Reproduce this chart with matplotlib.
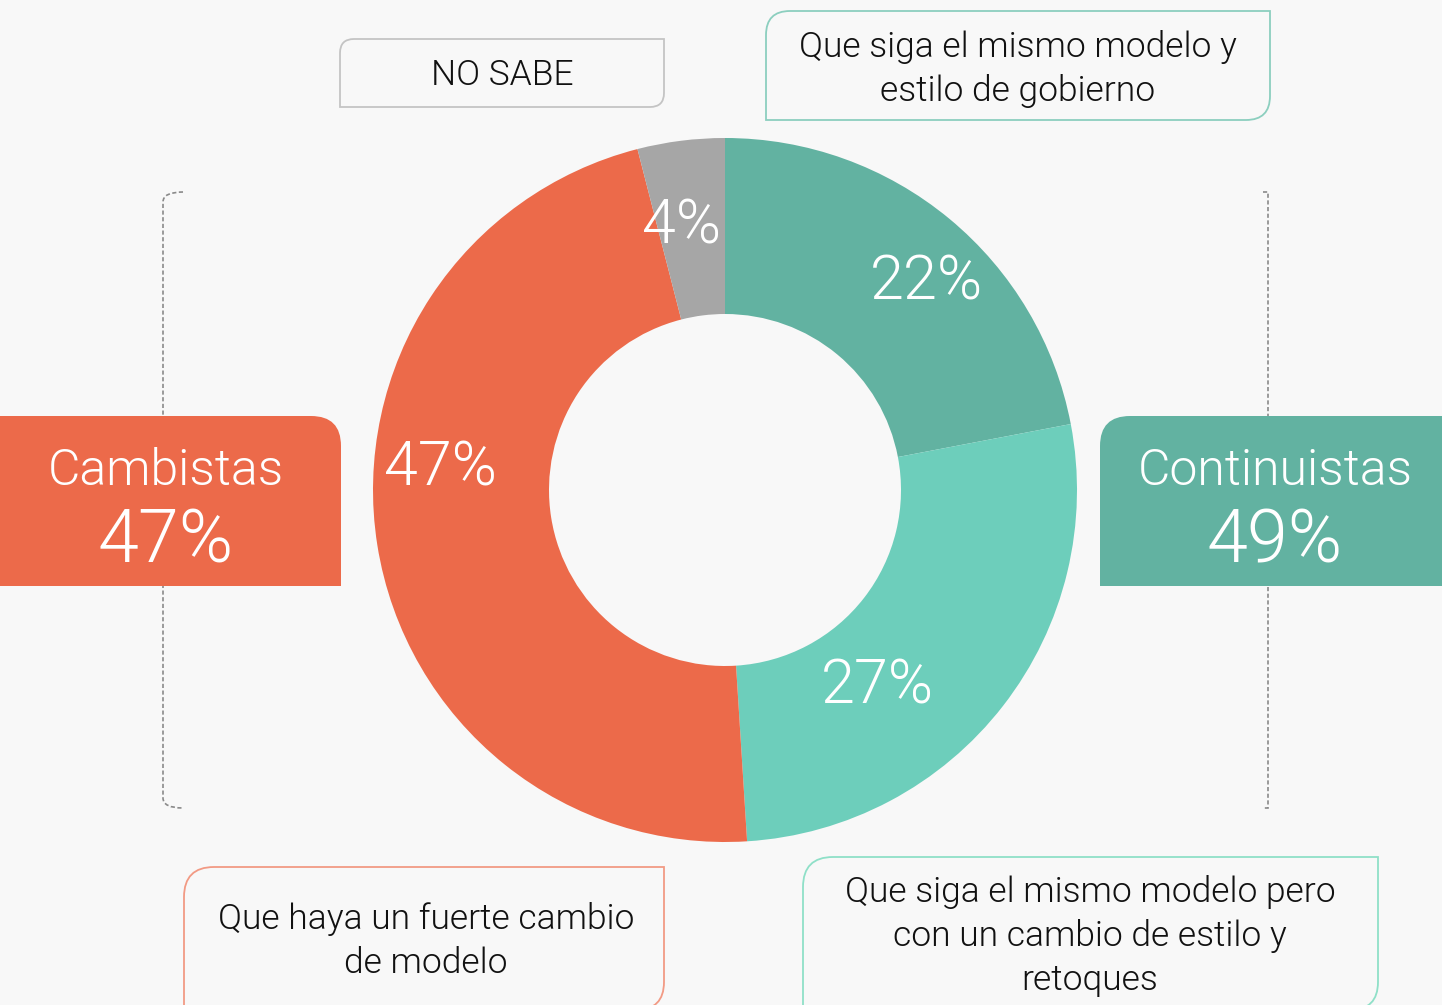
import matplotlib
matplotlib.use("Agg")
import matplotlib.pyplot as plt
from matplotlib.path import Path
from matplotlib.patches import PathPatch

W, H = 1442, 1005
BG = "#f8f8f8"

# data
segments = ["continuar", "continuar_retoques", "cambio", "no_sabe"]
values = [22, 27, 47, 4]
colors = ["#62b2a1", "#6dcebb", "#ec6a4a", "#a6a6a6"]
pct_labels = ["22%", "27%", "47%", "4%"]
group_names = ["Cambistas", "Continuistas"]
group_values = ["47%", "49%"]
callouts = ["NO SABE",
            "Que siga el mismo modelo y\nestilo de gobierno",
            "Que haya un fuerte cambio\nde modelo",
            "Que siga el mismo modelo pero\ncon un cambio de estilo y\nretoques"]

plt.rcParams['font.family'] = ['Roboto', 'DejaVu Sans']
WT = 300

fig = plt.figure(figsize=(W / 100, H / 100), dpi=100, facecolor=BG)
ax = fig.add_axes([0, 0, 1, 1])
ax.set_facecolor(BG)


def Y(y):
    return H - y


def rrect(x0, y0, x1, y1, tl=0, tr=0, br=0, bl=0, **kw):
    # image coords (y down) -> data coords
    top, bot = Y(y0), Y(y1)
    verts = [(x0 + tl, top), (x1 - tr, top), (x1, top), (x1, top - tr),
             (x1, bot + br), (x1, bot), (x1 - br, bot),
             (x0 + bl, bot), (x0, bot), (x0, bot + bl),
             (x0, top - tl), (x0, top), (x0 + tl, top), (x0 + tl, top)]
    codes = [Path.MOVETO, Path.LINETO, Path.CURVE3, Path.CURVE3,
             Path.LINETO, Path.CURVE3, Path.CURVE3,
             Path.LINETO, Path.CURVE3, Path.CURVE3,
             Path.LINETO, Path.CURVE3, Path.CURVE3, Path.CLOSEPOLY]
    ax.add_patch(PathPatch(Path(verts, codes), **kw))


# brackets
dash = (0, (2.5, 1.5))
lb = Path([(183, Y(192)), (163, Y(192)), (163, Y(202)), (163, Y(798)),
           (163, Y(808)), (183, Y(808))],
          [Path.MOVETO, Path.CURVE3, Path.CURVE3, Path.LINETO, Path.CURVE3, Path.CURVE3])
ax.add_patch(PathPatch(lb, fill=False, ec="#8a8a8a", lw=1.2, ls=dash, zorder=1))
rb = Path([(1263, Y(192)), (1268, Y(192)), (1268, Y(808)), (1263, Y(808))],
          [Path.MOVETO, Path.LINETO, Path.LINETO, Path.LINETO])
ax.add_patch(PathPatch(rb, fill=False, ec="#8a8a8a", lw=1.2, ls=dash, zorder=1))

# donut
ax.pie(values, colors=colors, startangle=90, counterclock=False,
       center=(725, Y(490)), radius=352,
       wedgeprops=dict(width=176, linewidth=0))

lab_pos = [(926, 282), (877, 686), (440, 468), (681, 226)]
for txt, (x, y) in zip(pct_labels, lab_pos):
    ax.text(x, Y(y), txt, color="white", fontsize=44, fontweight=WT,
            ha="center", va="center", zorder=5)

# group boxes
rrect(-30, 416, 341, 586, tl=30, tr=30, fc="#ec6a4a", ec="none", zorder=2)
rrect(1100, 416, 1472, 586, tl=30, tr=30, fc="#62b2a1", ec="none", zorder=2)
for cx, name, val in [(166, group_names[0], group_values[0]),
                      (1275, group_names[1], group_values[1])]:
    ax.text(cx, Y(471), name, color="white", fontsize=36, fontweight=WT,
            ha="center", va="center", zorder=3)
    ax.text(cx, Y(542), val, color="white", fontsize=53, fontweight=WT,
            ha="center", va="center", zorder=3)

# callout boxes
rrect(340, 39, 664, 107, tl=14, br=14, fc=BG, ec="#c4c4c4", lw=1.3, zorder=2)
rrect(766, 11, 1270, 120, tl=24, br=24, fc=BG, ec="#8ccfbf", lw=1.3, zorder=2)
rrect(184, 867, 664, 1010, tl=30, br=28, fc=BG, ec="#f29a84", lw=1.3, zorder=2)
rrect(803, 857, 1378, 1010, tl=30, br=28, fc=BG, ec="#8fe0c8", lw=1.3, zorder=2)

callout_pos = [(502, 75), (1018, 69), (426, 941), (1090, 936)]
for txt, (x, y) in zip(callouts, callout_pos):
    ax.text(x, Y(y), txt, color="#111111", fontsize=25.5, fontweight=WT,
            ha="center", va="center", linespacing=1.4, zorder=3)

ax.set_xlim(0, W)
ax.set_ylim(0, H)
ax.set_aspect("auto")
ax.axis("off")

fig.savefig("out.png", dpi=100, facecolor=BG)
